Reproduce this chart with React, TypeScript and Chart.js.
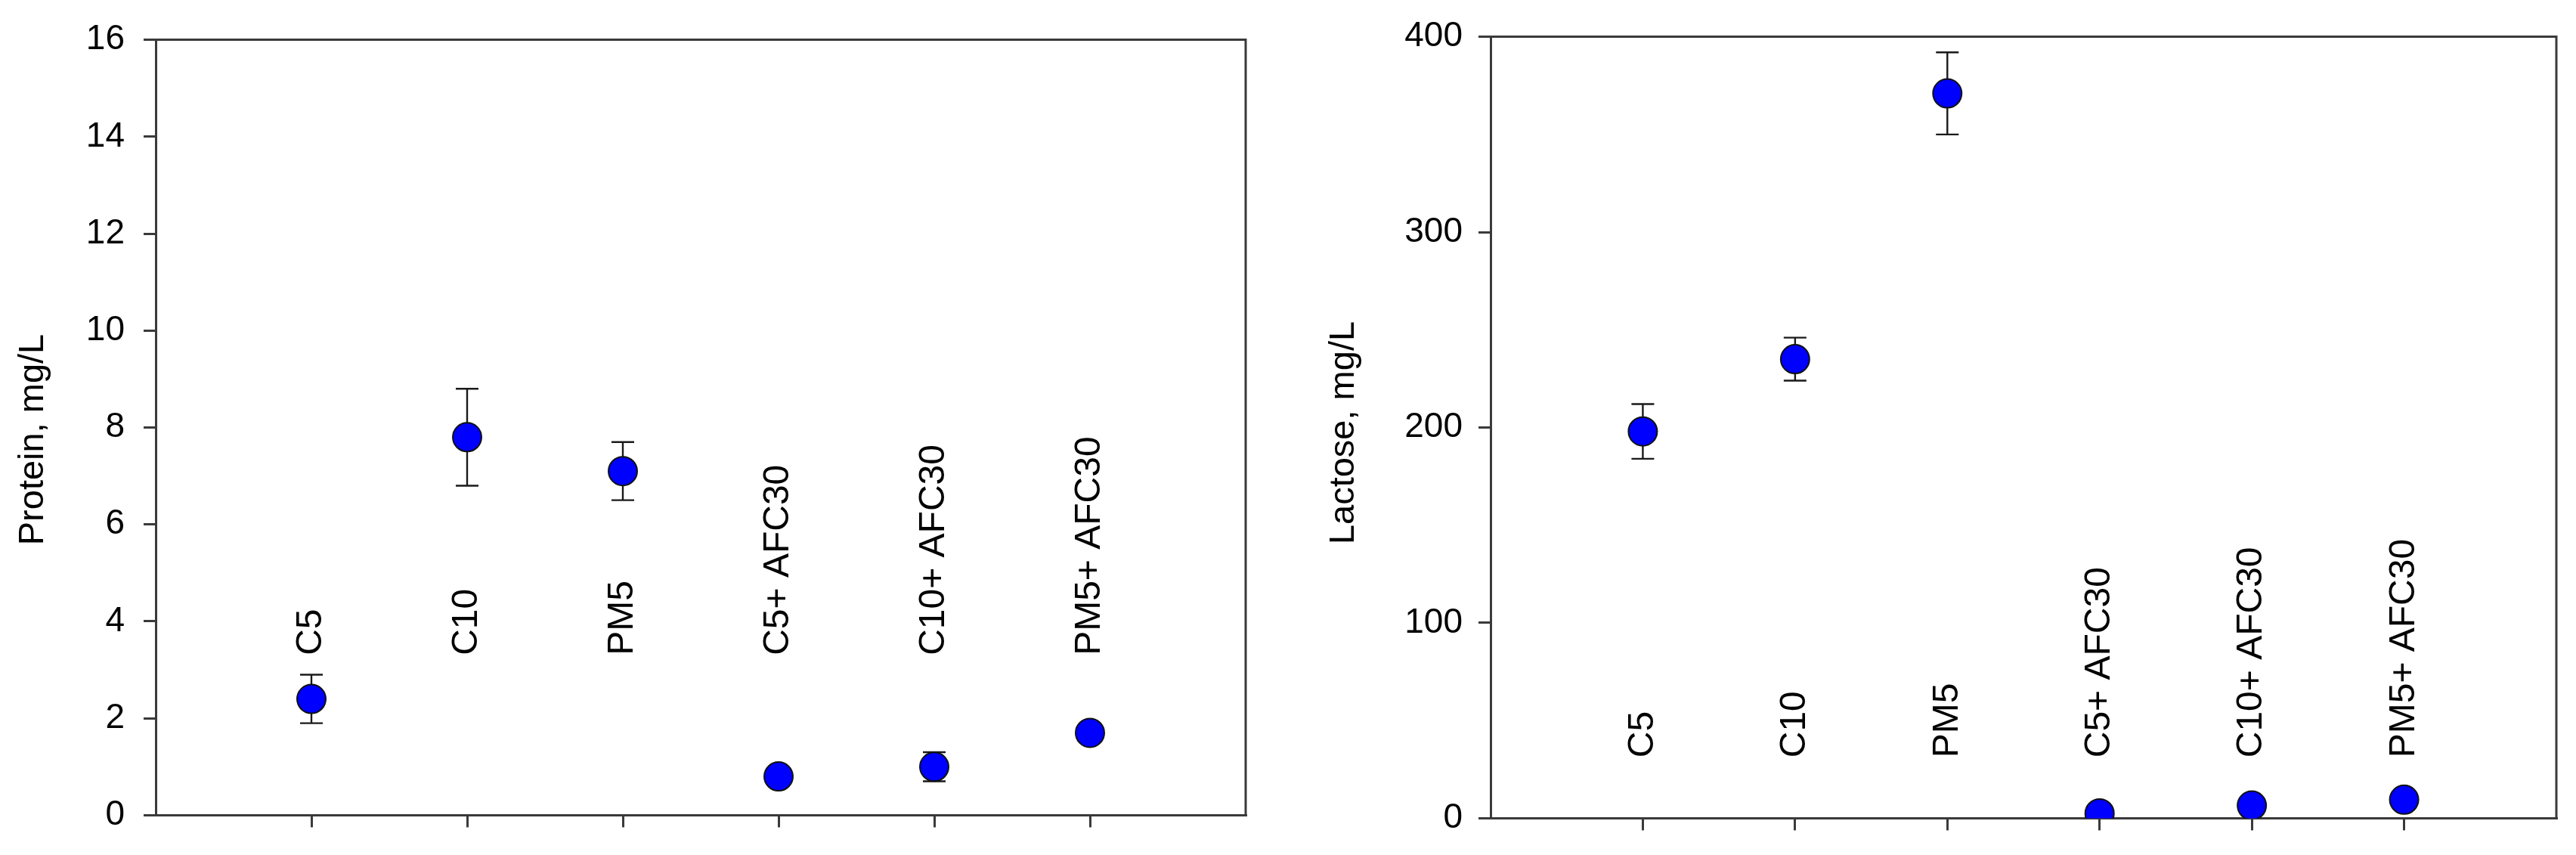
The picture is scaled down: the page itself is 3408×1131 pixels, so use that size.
import React, { useEffect, useRef } from 'react';
import { Chart, registerables } from 'chart.js';

Chart.register(...registerables);

// ---------- data ----------
const categories = ['C5', 'C10', 'PM5', 'C5+ AFC30', 'C10+ AFC30', 'PM5+ AFC30'];
const categoryPositions = [1, 2, 3, 4, 5, 6];

const proteinValues = [2.4, 7.8, 7.1, 0.8, 1.0, 1.7];
const proteinErrors = [0.5, 1.0, 0.6, 0.1, 0.3, 0.1];
const proteinTicks = [0, 2, 4, 6, 8, 10, 12, 14, 16];
const proteinLabelY = 3.3;

const lactoseValues = [198, 235, 371, 2.5, 6.5, 9.5];
const lactoseErrors = [14, 11, 21, 1, 1.5, 1.5];
const lactoseTicks = [0, 100, 200, 300, 400];
const lactoseLabelY = 31;

const FONT = "'Liberation Sans', Arial, Helvetica, sans-serif";
const AXIS_COLOR = '#3a3a3a';

type PanelProps = {
  values: number[];
  errors: number[];
  yTicks: number[];
  labelY: number;
  title: string;
  canvasLeft: number;
  canvasWidth: number;
  areaLeft: number;
  areaRight: number;
  titleX: number;
  titleShiftY: number;
  tickPad: number;
  xMax: number;
};

const CANVAS_H = 1131;
const AREA_TOP = 45;
const AREA_BOTTOM = 1083;

function Panel(p: PanelProps) {
  const ref = useRef<HTMLCanvasElement | null>(null);

  useEffect(() => {
    if (!ref.current) return;
    const decorPlugin = {
      id: 'decor',
      beforeDatasetsDraw(chart: any) {
        const ctx = chart.ctx;
        const xs = chart.scales.x;
        const ys = chart.scales.y;
        ctx.save();
        ctx.strokeStyle = '#1a1a1a';
        ctx.lineWidth = 2.4;
        p.values.forEach((v, i) => {
          const x = xs.getPixelForValue(categoryPositions[i]);
          const yT = ys.getPixelForValue(v + p.errors[i]);
          const yB = ys.getPixelForValue(v - p.errors[i]);
          ctx.beginPath();
          ctx.moveTo(x, yT);
          ctx.lineTo(x, yB);
          ctx.moveTo(x - 15, yT);
          ctx.lineTo(x + 15, yT);
          ctx.moveTo(x - 15, yB);
          ctx.lineTo(x + 15, yB);
          ctx.stroke();
        });
        ctx.restore();
      },
      afterDatasetsDraw(chart: any) {
        const ctx = chart.ctx;
        const xs = chart.scales.x;
        const ys = chart.scales.y;
        const a = chart.chartArea;
        ctx.save();
        ctx.fillStyle = '#000';
        ctx.font = `48px ${FONT}`;
        ctx.textAlign = 'left';
        ctx.textBaseline = 'middle';
        categories.forEach((c, i) => {
          const x = xs.getPixelForValue(categoryPositions[i]);
          const y = ys.getPixelForValue(p.labelY);
          ctx.save();
          ctx.translate(x, y);
          ctx.rotate(-Math.PI / 2);
          ctx.fillText(c, 0, 0);
          ctx.restore();
        });
        // y-axis title
        ctx.save();
        ctx.font = `47px ${FONT}`;
        ctx.textAlign = 'center';
        ctx.textBaseline = 'middle';
        ctx.translate(p.titleX, (a.top + a.bottom) / 2 + p.titleShiftY);
        ctx.rotate(-Math.PI / 2);
        ctx.fillText(p.title, 0, 0);
        ctx.restore();
        // top and right frame lines
        ctx.strokeStyle = AXIS_COLOR;
        ctx.lineWidth = 3;
        ctx.beginPath();
        ctx.moveTo(a.left, a.top);
        ctx.lineTo(a.right, a.top);
        ctx.lineTo(a.right, a.bottom);
        ctx.stroke();
        ctx.restore();
      },
    };

    const chart = new Chart(ref.current, {
      type: 'scatter',
      data: {
        datasets: [
          {
            data: categoryPositions.map((x, i) => ({ x, y: p.values[i] })),
            pointRadius: 19,
            pointHoverRadius: 19,
            pointBackgroundColor: '#0000ff',
            pointBorderColor: '#111',
            pointBorderWidth: 2,
            showLine: false,
          },
        ],
      },
      options: {
        animation: false,
        responsive: false,
        devicePixelRatio: 1,
        events: [],
        layout: {
          padding: {
            left: 0,
            top: AREA_TOP,
            right: p.canvasWidth - p.areaRight,
            bottom: 0,
          },
        },
        plugins: {
          legend: { display: false },
          tooltip: { enabled: false },
        },
        scales: {
          x: {
            type: 'linear',
            min: 0,
            max: p.xMax,
            afterBuildTicks: (scale: any) => {
              scale.ticks = categoryPositions.map((v) => ({ value: v }));
            },
            afterFit: (scale: any) => {
              scale.height = CANVAS_H - AREA_BOTTOM;
            },
            ticks: { display: false },
            grid: {
              display: true,
              drawOnChartArea: false,
              drawTicks: true,
              tickLength: 16,
              color: AXIS_COLOR,
              lineWidth: 3,
            },
            border: { display: true, color: AXIS_COLOR, width: 3 },
          },
          y: {
            type: 'linear',
            min: p.yTicks[0],
            max: p.yTicks[p.yTicks.length - 1],
            afterBuildTicks: (scale: any) => {
              scale.ticks = p.yTicks.map((v) => ({ value: v }));
            },
            afterFit: (scale: any) => {
              scale.width = p.areaLeft;
            },
            ticks: {
              color: '#000',
              padding: p.tickPad,
              font: { family: FONT, size: 46 },
              callback: (v: any) => String(v),
            },
            grid: {
              display: true,
              drawOnChartArea: false,
              drawTicks: true,
              tickLength: 16,
              color: AXIS_COLOR,
              lineWidth: 3,
            },
            border: { display: true, color: AXIS_COLOR, width: 3 },
          },
        },
      },
      plugins: [decorPlugin],
    });
    return () => chart.destroy();
  }, []);

  return (
    <canvas
      ref={ref}
      width={p.canvasWidth}
      height={CANVAS_H}
      style={{
        position: 'absolute',
        left: p.canvasLeft,
        top: 0,
        width: p.canvasWidth,
        height: CANVAS_H,
      }}
    />
  );
}

export default function App() {
  return (
    <div
      style={{
        position: 'absolute',
        left: 0,
        top: 0,
        width: 3408,
        height: CANVAS_H,
        background: '#fff',
      }}
    >
      <Panel
        values={proteinValues}
        errors={proteinErrors}
        yTicks={proteinTicks}
        labelY={proteinLabelY}
        title="Protein, mg/L"
        canvasLeft={0}
        canvasWidth={1700}
        areaLeft={206}
        areaRight={1648}
        titleX={44}
        titleShiftY={16}
        tickPad={25}
        xMax={7}
      />
      <Panel
        values={lactoseValues}
        errors={lactoseErrors}
        yTicks={lactoseTicks}
        labelY={lactoseLabelY}
        title="Lactose, mg/L"
        canvasLeft={1700}
        canvasWidth={1708}
        areaLeft={272}
        areaRight={1682}
        titleX={78}
        titleShiftY={7}
        tickPad={21}
        xMax={7}
      />
    </div>
  );
}
